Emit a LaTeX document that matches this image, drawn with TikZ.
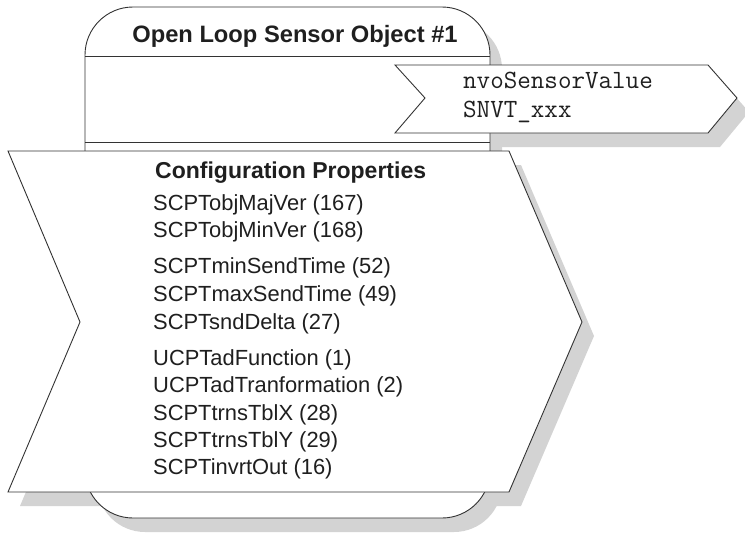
\documentclass[tikz,border=0pt]{standalone}
\usepackage{fontspec}
\setmainfont{Liberation Sans}
\usetikzlibrary{calc}
\usetikzlibrary{positioning}

\definecolor{linegray}{HTML}{333333}
\definecolor{shadowgray}{HTML}{D3D3D3}

\begin{document}
\begin{tikzpicture}[x=1pt, y=-1pt,
    outline/.style={draw=linegray, line width=0.9pt, fill=white},
    shade/.style={draw=none, fill=shadowgray},
    cplabel/.style={anchor=base west, inner sep=0pt, text=black!88, font=\fontsize{21.9}{26}\selectfont}]

        \useasboundingbox (0,0) rectangle (745,533);

        \coordinate (hdl) at (85,56);
        \coordinate (hdr) at (490,56);
        \coordinate (dvl) at (85,142);
        \coordinate (dvr) at (490,142);

        % shadows first, then the white shapes over them
        \foreach \dx/\dy/\look in {12/14/shade, 0/0/outline} {
            \begin{scope}[shift={(\dx,\dy)}]
                \path[\look, rounded corners=48pt] (85,300) -- (85,7) -- (490,7) -- (490,518) -- (85,518) -- cycle;
                \path[\look] (395,65) -- (708,65) -- (737,98) -- (708,133) -- (395,133) -- (425,98) -- cycle;
                \path[\look] (8,151) -- (509,151) -- (582,322) -- (509,492) -- (8,492) -- (80,322) -- cycle;
            \end{scope}
        }

        \path[draw=linegray, line width=0.9pt] (hdl) -- (hdr);
        \path[draw=linegray, line width=0.9pt] (dvl) -- (dvr);

        \node[anchor=base, inner sep=0pt, text=black!88, font=\bfseries\fontsize{23.7}{28}\selectfont] (title) at (295,42) {Open Loop Sensor Object \#1};

        \node[anchor=base west, inner sep=0pt, text=black!88, font=\ttfamily\fontsize{26.3}{30}\selectfont] (nvname) at (463,88) {nvoSensorValue};
        \node[anchor=base west, inner sep=0pt, text=black!88, font=\ttfamily\fontsize{26.3}{30}\selectfont] (nvtype) at (463,117) {SNVT\_xxx};

        \node[cplabel, font=\bfseries\fontsize{23}{27}\selectfont] (cphead) at (155,178) {Configuration Properties};

        \foreach \txt/\y [count=\i] in {SCPTobjMajVer (167)/210, SCPTobjMinVer (168)/237,
                SCPTminSendTime (52)/273, SCPTmaxSendTime (49)/301, SCPTsndDelta (27)/329,
                UCPTadFunction (1)/365, UCPTadTranformation (2)/392, SCPTtrnsTblX (28)/420,
                SCPTtrnsTblY (29)/447, SCPTinvrtOut (16)/474}
            \node[cplabel] (cp\i) at (153,\y) {\txt};

    \end{tikzpicture}
\end{document}
